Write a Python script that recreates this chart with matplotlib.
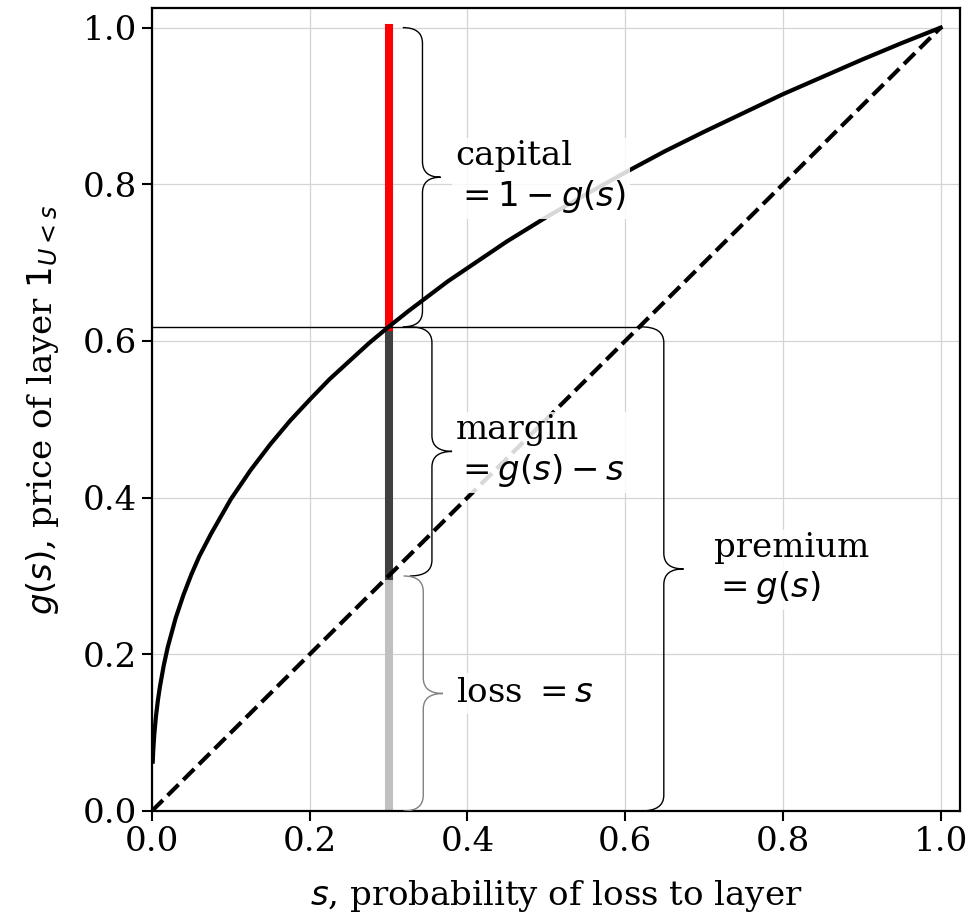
import matplotlib
matplotlib.use('Agg')
import matplotlib.pyplot as plt
from matplotlib.path import Path
from matplotlib.patches import PathPatch

# values
s_pts = [0.001, 0.0015, 0.002, 0.003, 0.005, 0.0075, 0.01, 0.015, 0.02, 0.03, 0.04,
         0.05, 0.06, 0.075, 0.1, 0.125, 0.15, 0.175, 0.2, 0.225, 0.25, 0.275, 0.3,
         0.325, 0.35, 0.375, 0.4, 0.45, 0.5, 0.55, 0.6, 0.65, 0.7, 0.75, 0.8,
         0.85, 0.9, 0.95, 1.0]
g_pts = [0.063, 0.074, 0.083, 0.098, 0.120, 0.141, 0.158, 0.186, 0.209, 0.246, 0.276,
         0.302, 0.325, 0.354, 0.398, 0.435, 0.468, 0.498, 0.525, 0.551, 0.574, 0.597, 0.618,
         0.638, 0.657, 0.676, 0.693, 0.727, 0.758, 0.787, 0.815, 0.842, 0.867, 0.891, 0.915,
         0.937, 0.959, 0.980, 1.0]
diag = [0.0, 1.0]
s_layer = 0.3
g_layer = 0.618
ticks = [0.0, 0.2, 0.4, 0.6, 0.8, 1.0]

plt.rcParams['font.family'] = 'DejaVu Serif'
plt.rcParams['font.size'] = 24.5

fig = plt.figure(figsize=(9.74, 9.22), dpi=100)
ax = fig.add_axes([0.156, 0.1204, 0.83, 0.8709])


def brace(x0, x1, tip, y0, y1, r=0.02, color='k', lw=1.0):
    ym = (y0 + y1) / 2
    verts = [(x0, y0), (x1, y0), (x1, y0 + r), (x1, ym - r), (x1, ym), (tip, ym),
             (x1, ym), (x1, ym + r), (x1, y1 - r), (x1, y1), (x0, y1)]
    codes = [Path.MOVETO, Path.CURVE3, Path.CURVE3, Path.LINETO, Path.CURVE3, Path.CURVE3,
             Path.CURVE3, Path.CURVE3, Path.LINETO, Path.CURVE3, Path.CURVE3]
    ax.add_patch(PathPatch(Path(verts, codes), fill=False, edgecolor=color, lw=lw, zorder=3))


# the layer split at s
ax.plot([s_layer, s_layer], [0, s_layer], color='#c0c0c0', lw=5.8, zorder=2)
ax.plot([s_layer, s_layer], [s_layer, g_layer], color='#404040', lw=5.8, zorder=2)
ax.plot([s_layer, s_layer], [g_layer, 1.0], color='red', lw=5.8, zorder=2)

ax.plot(diag, diag, 'k--', lw=3, zorder=2)
ax.plot(s_pts, g_pts, 'k-', lw=3, zorder=2)
ax.plot([0, 0.62], [g_layer, g_layer], 'k-', lw=1, zorder=2)

brace(0.318, 0.343, 0.366, g_layer, 1.0)
brace(0.327, 0.355, 0.381, s_layer, g_layer)
brace(0.319, 0.344, 0.369, 0.0, s_layer, color='#808080')
brace(0.620, 0.649, 0.674, 0.0, g_layer)

box = dict(boxstyle='square,pad=0.12', fc='white', ec='none', alpha=0.85)
ax.text(0.385, (g_layer + 1) / 2, 'capital\n$=1-g(s)$', va='center', ha='left',
        bbox=box, zorder=4)
ax.text(0.385, (s_layer + g_layer) / 2, 'margin\n$=g(s)-s$', va='center', ha='left',
        bbox=box, zorder=4)
ax.text(0.385, s_layer / 2, 'loss $=s$', va='center', ha='left',
        bbox=box, zorder=4)
ax.text(0.712, g_layer / 2, 'premium\n$=g(s)$', va='center', ha='left',
        bbox=box, zorder=4)

ax.set_xlim(0, 1.025)
ax.set_ylim(0, 1.025)
ax.set_xticks(ticks)
ax.set_yticks(ticks)
ax.set_xticklabels(['%.1f' % t for t in ticks])
ax.set_yticklabels(['%.1f' % t for t in ticks])
ax.grid(True, color='#d4d4d4', lw=0.9)
ax.set_axisbelow(True)
ax.tick_params(length=7, width=1.5, labelsize=24.5)
for sp in ax.spines.values():
    sp.set_linewidth(1.6)
ax.set_xlabel('$s$, probability of loss to layer', labelpad=15)
ax.set_ylabel('$g(s)$, price of layer $1_{U<s}$', labelpad=16)

fig.savefig('out.png', dpi=100)
